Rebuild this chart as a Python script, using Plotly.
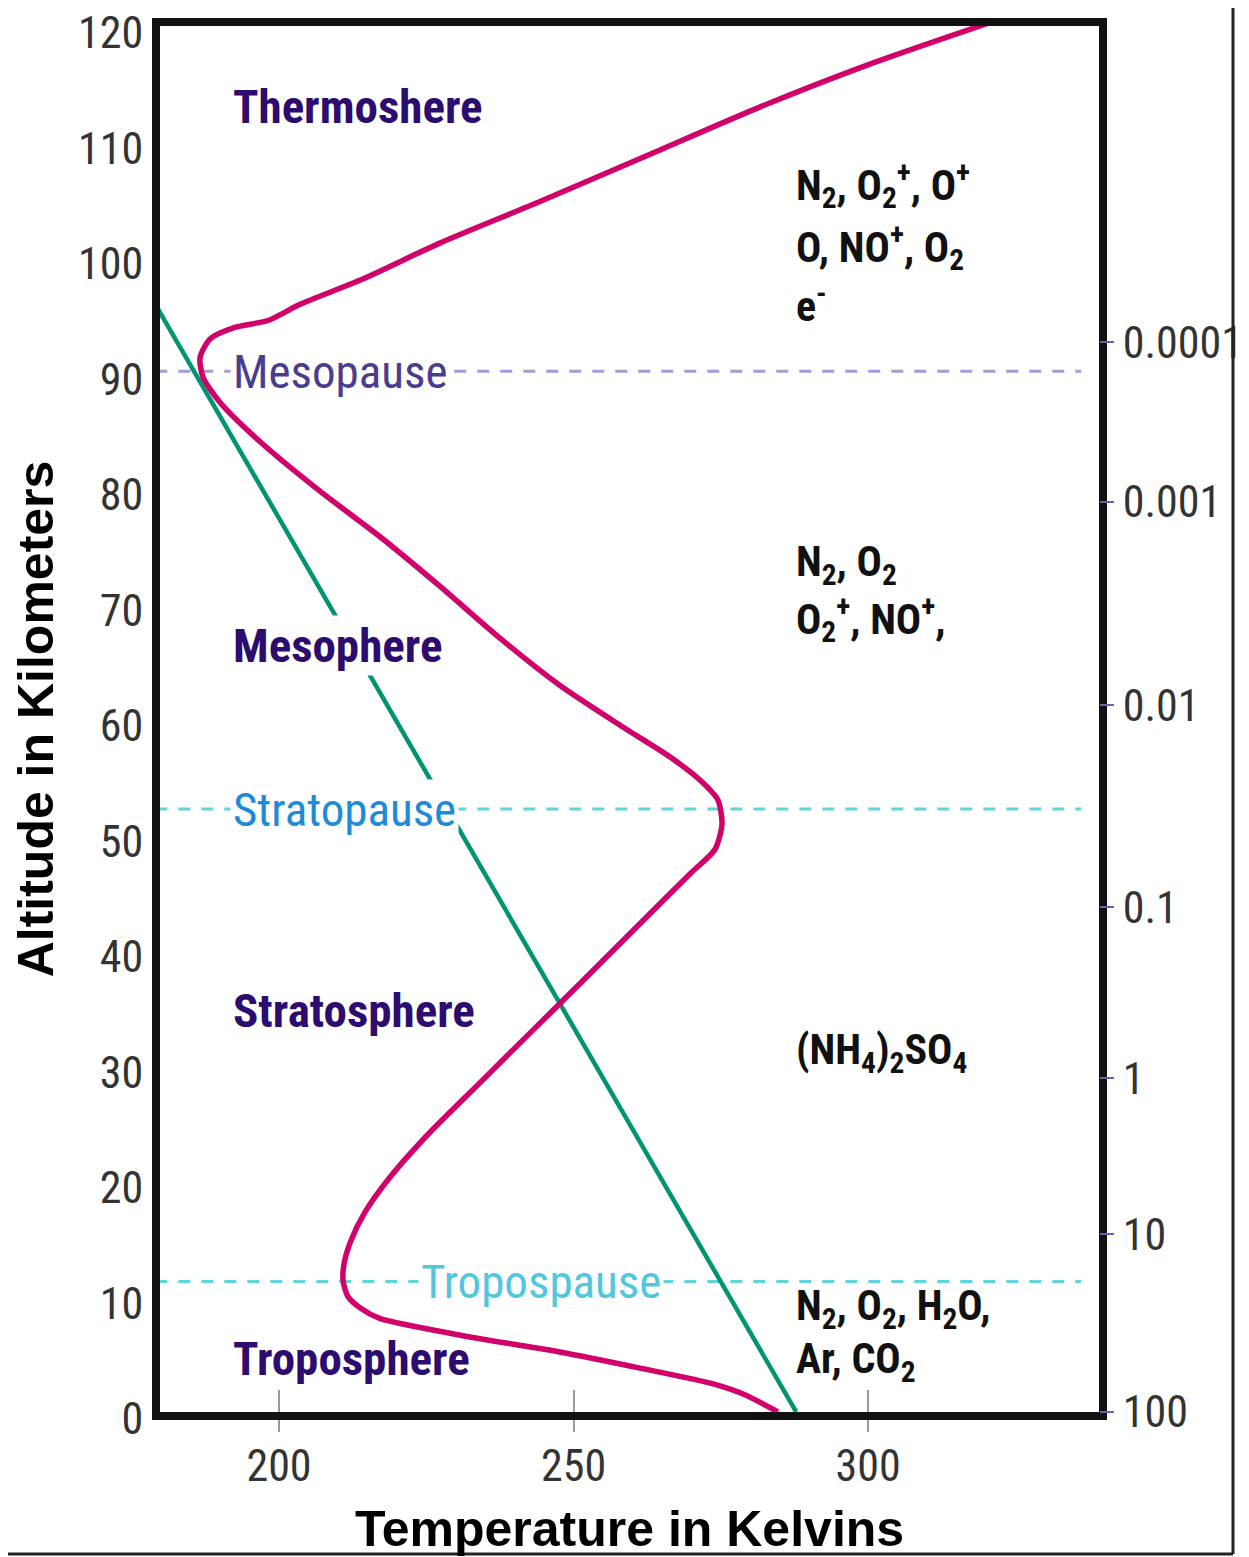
import plotly.graph_objects as go

# ---- data ----
temp_K = [284.7, 279.1, 274.0, 261.3, 247.7, 232.4, 217.1, 213.8, 211.7, 210.9,
          211.0, 212.1, 214.6, 218.8, 225.6, 234.1, 242.6, 251.1, 261.3, 269.8,
          274.0, 275.2, 274.5, 271.5, 266.4, 258.7, 247.7, 237.5, 227.3, 217.1,
          207.0, 196.8, 190.0, 187.1, 186.6, 188.3, 192.5, 198.1, 203.6, 213.8,
          227.3, 244.3, 263.0, 281.7, 300.3, 320.7]
alt_km = [0.0, 1.5, 2.4, 3.8, 5.2, 6.5, 8.1, 9.0, 10.0, 11.3,
          12.7, 14.7, 17.3, 20.3, 24.2, 28.5, 32.8, 37.1, 42.3, 46.6,
          48.7, 50.9, 53.0, 54.7, 56.7, 59.2, 62.9, 67.0, 71.5, 75.8,
          79.7, 84.0, 87.4, 89.6, 91.3, 92.9, 93.9, 94.5, 95.9, 98.0,
          101.2, 104.8, 108.9, 113.0, 116.7, 120.3]

lapse_temp_K = [287.8, 179.0]
lapse_alt_km = [0.0, 95.9]

pause_names = ["Mesopause", "Stratopause", "Tropospause"]
pause_alt_km = [90.1, 52.2, 11.3]
pause_line_T = [179.0, 336.2]
pause_label_T = [191.6, 191.6, 223.6]

layer_names = ["Thermoshere", "Mesophere", "Stratosphere", "Troposphere"]
layer_alt_km = [113.0, 66.4, 34.8, 4.6]
layer_label_T = 191.6

species_text = ["N<sub>2</sub>, O<sub>2</sub><sup>+</sup>, O<sup>+</sup>",
                "O, NO<sup>+</sup>, O<sub>2</sub>",
                "e<sup>-</sup>",
                "N<sub>2</sub>, O<sub>2</sub>",
                "O<sub>2</sub><sup>+</sup>, NO<sup>+</sup>,",
                "(NH<sub>4</sub>)<sub>2</sub>SO<sub>4</sub>",
                "N<sub>2</sub>, O<sub>2</sub>, H<sub>2</sub>O,",
                "Ar, CO<sub>2</sub>"]
species_alt_km = [106.2, 100.9, 96.0, 73.4, 68.7, 31.1, 8.95, 4.4]
species_T = 287.4

alt_ticks = [0, 10, 20, 30, 40, 50, 60, 70, 80, 90, 100, 110, 120]
temp_ticks = [200, 250, 300]
pressure_labels = ["0.0001", "0.001", "0.01", "0.1", "1", "10", "100"]
pressure_alt_km = [92.6, 78.8, 61.2, 43.7, 28.9, 15.4, 0.0]

# ---- styling ----
NARROW = "Liberation Sans Narrow, Arial Narrow, Roboto Condensed, sans-serif"
WIDE = "Liberation Sans, Arial, Helvetica, sans-serif"
pause_line_colors = ["#a49ad8", "#5fd6dc", "#5fd6dc"]
pause_text_colors = ["#4a3c90", "#1f8ad6", "#52c6dc"]
layer_bg = ["rgba(0,0,0,0)", "white", "rgba(0,0,0,0)", "rgba(0,0,0,0)"]
REGION_COLOR = "#2c0c6e"

fig = go.Figure()

for name, alt, col in zip(pause_names, pause_alt_km, pause_line_colors):
    fig.add_trace(go.Scatter(x=pause_line_T, y=[alt, alt], mode="lines",
                             line=dict(color=col, width=3, dash="12px,11px"),
                             hoverinfo="skip", showlegend=False))

fig.add_trace(go.Scatter(x=lapse_temp_K, y=lapse_alt_km, mode="lines",
                         line=dict(color="#00956e", width=4.5),
                         showlegend=False))
fig.add_trace(go.Scatter(x=temp_K, y=alt_km, mode="lines",
                         line=dict(color="#d1006a", width=5.5, shape="spline", smoothing=0.7),
                         showlegend=False))

annotations = []
for name, alt, tx, col in zip(pause_names, pause_alt_km, pause_label_T, pause_text_colors):
    annotations.append(dict(x=tx, y=alt, xref="x", yref="y", text=name, showarrow=False,
                            xanchor="left", yanchor="middle", bgcolor="white", borderpad=2,
                            font=dict(family=NARROW, size=47, color=col)))
for name, alt, bg in zip(layer_names, layer_alt_km, layer_bg):
    annotations.append(dict(x=layer_label_T, y=alt, xref="x", yref="y", text=name,
                            showarrow=False, xanchor="left", yanchor="middle",
                            bgcolor=bg, borderpad=2,
                            font=dict(family=NARROW, size=47, color=REGION_COLOR, weight="bold")))
for txt, alt in zip(species_text, species_alt_km):
    annotations.append(dict(x=species_T, y=alt, xref="x", yref="y", text=txt,
                            showarrow=False, xanchor="left", yanchor="middle",
                            font=dict(family=NARROW, size=42, color="#111111", weight="bold")))

fig.update_layout(
    width=1241, height=1549,
    margin=dict(l=152, r=150, t=18, b=145, autoexpand=False),
    paper_bgcolor="white", plot_bgcolor="white",
    showlegend=False,
    annotations=annotations,
    xaxis=dict(range=[179.8, 339.2], tickvals=temp_ticks, ticks="outside", ticklen=12,
               tickcolor="#9a9a9a", tickwidth=2, showgrid=False, zeroline=False,
               showline=True, linecolor="#111111", linewidth=8, mirror=True,
               automargin=False, ticklabelstandoff=-4, ticklabeloverflow="allow",
               tickfont=dict(family=NARROW, size=44, color="#333333"),
               title=dict(text="Temperature in Kelvins", standoff=23,
                          font=dict(family=WIDE, size=50, color="#000000", weight="bold"))),
    xaxis2=dict(range=[179.8, 339.2], overlaying="x", anchor="y", side="bottom",
                tickvals=temp_ticks, ticks="inside", ticklen=22, tickcolor="#9a9a9a",
                tickwidth=2, showticklabels=False, showgrid=False, zeroline=False,
                showline=False, automargin=False),
    yaxis=dict(range=[0, 120], tickvals=alt_ticks, ticks="", showgrid=False,
               zeroline=False, showline=True, linecolor="#111111", linewidth=8,
               mirror=True, ticklabelshift=7, automargin=False,
               ticklabeloverflow="allow",
               tickfont=dict(family=NARROW, size=44, color="#333333"),
               title=dict(text="Altitude in Kilometers", standoff=20,
                          font=dict(family=WIDE, size=50, color="#000000", weight="bold"))),
    yaxis2=dict(range=[0, 120], overlaying="y", side="right", anchor="x",
                tickvals=pressure_alt_km, ticktext=pressure_labels, ticks="outside",
                ticklen=14, tickcolor="#6c5fb0", tickwidth=2, showgrid=False,
                zeroline=False, showline=False, automargin=False,
                ticklabeloverflow="allow",
                tickfont=dict(family=NARROW, size=44, color="#333333")),
    shapes=[
        dict(type="line", xref="paper", yref="paper", x0=1.1427, x1=1.1427,
             y0=-0.1025, y1=1.03, line=dict(color="#222222", width=3)),
        dict(type="line", xref="paper", yref="paper", x0=-0.17, x1=1.1427,
             y0=-0.1025, y1=-0.1025, line=dict(color="#222222", width=3)),
    ],
)

# invisible trace on secondary axes so they render
fig.add_trace(go.Scatter(x=[None], y=[None], xaxis="x2", yaxis="y2", showlegend=False))

fig.write_html("out.html")
